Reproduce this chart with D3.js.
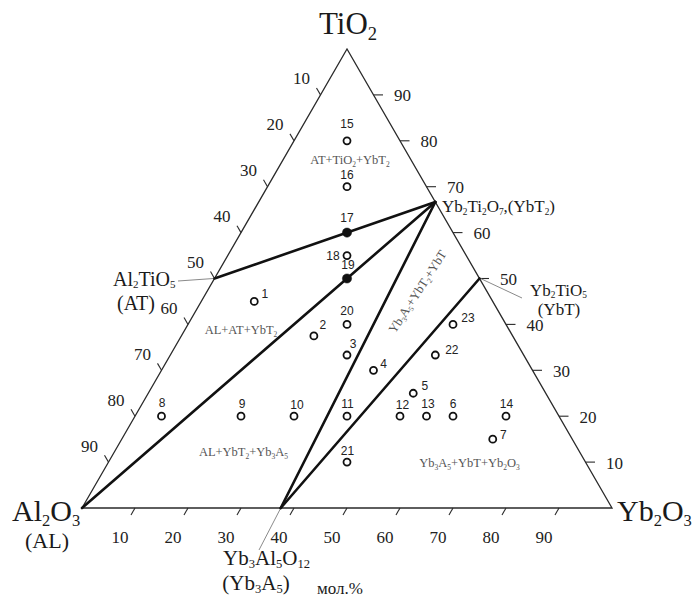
<!DOCTYPE html>
<html><head><meta charset="utf-8">
<script src="https://cdn.jsdelivr.net/npm/d3@7"></script>
<style>
html,body{margin:0;padding:0;background:#fff;}
svg{display:block;}
</style></head><body>
<svg id="chart" width="695" height="600"></svg>
<script>
// ---------- DATA (mol.%) ----------
const tickValues = [10, 20, 30, 40, 50, 60, 70, 80, 90];

const sampleIds     = ["1","2","3","4","5","6","7","8","9","10","11","12","13","14","15","16","17","18","19","20","21","22","23"];
const sampleAl2O3   = [45, 37.5, 33.33, 30, 25, 20, 15, 75, 60, 50, 40, 30, 25, 10, 10, 15, 20, 22.5, 25, 30, 45, 16.67, 10];
const sampleTiO2    = [45, 37.5, 33.33, 30, 25, 20, 15, 20, 20, 20, 20, 20, 20, 20, 80, 70, 60, 55, 50, 40, 10, 33.33, 40];
const sampleYb2O3   = [10, 25, 33.33, 40, 50, 60, 70, 5, 20, 30, 40, 50, 55, 70, 10, 15, 20, 22.5, 25, 30, 45, 50, 50];
const sampleFilled  = [0,0,0,0,0,0,0,0,0,0,0,0,0,0,0,0,1,0,1,0,0,0,0];

const phaseNames  = ["Al2O3", "TiO2", "Yb2O3", "Al2TiO5", "Yb2Ti2O7", "Yb2TiO5", "Yb3Al5O12"];
const phaseAl2O3  = [100, 0, 0, 50, 0, 0, 62.5];
const phaseTiO2   = [0, 100, 0, 50, 66.67, 50, 0];
const phaseYb2O3  = [0, 0, 100, 0, 33.33, 50, 37.5];

const tieFrom = ["Al2TiO5", "Al2O3", "Yb3Al5O12", "Yb3Al5O12"];
const tieTo   = ["Yb2Ti2O7", "Yb2Ti2O7", "Yb2Ti2O7", "Yb2TiO5"];

// ---------- LAYOUT ----------
const svg = d3.select("#chart");
const SERIF = "'Liberation Serif','Times New Roman',serif";
const SANS = "'Liberation Sans',Arial,sans-serif";

// ternary projection through linear scales
const xs = d3.scaleLinear().domain([0, 100]).range([82, 612]);
const ys = d3.scaleLinear().domain([0, 100]).range([508, 49]);
const px = (al, ti, yb) => [xs(yb + ti / 2), ys(ti)];

const phase = {};
phaseNames.forEach((n, i) => phase[n] = px(phaseAl2O3[i], phaseTiO2[i], phaseYb2O3[i]));

function chem(sel, str, fs, ratio, shiftR) {
  ratio = ratio || 0.62;
  const parts = str.split(/(_[0-9]+)/).filter(s => s.length);
  let shifted = false;
  const shift = fs * (shiftR || 0.2);
  parts.forEach(p => {
    if (p[0] === "_") {
      const t = sel.append("tspan").attr("font-size", fs * ratio).text(p.slice(1));
      if (!shifted) { t.attr("dy", shift); shifted = true; }
    } else {
      const t = sel.append("tspan").text(p);
      if (shifted) { t.attr("dy", -shift); shifted = false; }
    }
  });
}
function label(x, y, str, fs, opts) {
  opts = opts || {};
  const t = svg.append("text").attr("x", x).attr("y", y)
    .attr("font-family", opts.family || SERIF).attr("font-size", fs)
    .attr("fill", opts.fill || "#1a1a1a")
    .attr("text-anchor", opts.anchor || "start");
  if (opts.rotate) t.attr("transform", `rotate(${opts.rotate},${x},${y})`);
  chem(t, str, fs, opts.ratio, opts.shift);
  return t;
}

// triangle
const A = px(100, 0, 0), B = px(0, 0, 100), C = px(0, 100, 0);
svg.append("path")
  .attr("d", d3.line()([A, B, C, A]) + "Z")
  .attr("fill", "none").attr("stroke", "#2a2a2a").attr("stroke-width", 1.3)
  .attr("stroke-linejoin", "miter");

// ticks
const TL = 8;
const tickG = svg.append("g").attr("stroke", "#2a2a2a").attr("stroke-width", 1.1);
// bottom edge: Yb2O3
tickValues.forEach(v => {
  const p = px(100 - v, 0, v);
  tickG.append("line").attr("x1", p[0]).attr("y1", p[1])
    .attr("x2", p[0] - 0.5 * TL).attr("y2", p[1] + 0.866 * TL);
  svg.append("text").attr("x", p[0] - 15).attr("y", p[1] + 29)
    .attr("font-family", SERIF).attr("font-size", 17).attr("fill", "#222")
    .attr("text-anchor", "middle").attr("dominant-baseline", "central").text(v);
});
// right edge: TiO2
tickValues.forEach(v => {
  const p = px(0, v, 100 - v);
  tickG.append("line").attr("x1", p[0]).attr("y1", p[1])
    .attr("x2", p[0] + 9.5).attr("y2", p[1]);
  svg.append("text").attr("x", p[0] + 29).attr("y", p[1] + 1)
    .attr("font-family", SERIF).attr("font-size", 17).attr("fill", "#222")
    .attr("text-anchor", "middle").attr("dominant-baseline", "central").text(v);
});
// left edge: Al2O3
tickValues.forEach(v => {
  const p = px(v, 100 - v, 0);
  tickG.append("line").attr("x1", p[0]).attr("y1", p[1])
    .attr("x2", p[0] - 0.5 * TL).attr("y2", p[1] - 0.866 * TL);
  svg.append("text").attr("x", p[0] - 19).attr("y", p[1] - 16)
    .attr("font-family", SERIF).attr("font-size", 17).attr("fill", "#222")
    .attr("text-anchor", "middle").attr("dominant-baseline", "central").text(v);
});

// leader lines
const leadG = svg.append("g").attr("stroke", "#8a8a8a").attr("stroke-width", 1);
leadG.append("line").attr("x1", phase.Al2TiO5[0] - 1).attr("y1", phase.Al2TiO5[1])
  .attr("x2", 178).attr("y2", 281);
leadG.append("line").attr("x1", phase.Yb2TiO5[0] + 1).attr("y1", phase.Yb2TiO5[1])
  .attr("x2", 522).attr("y2", 298);
leadG.append("line").attr("x1", phase.Yb3Al5O12[0]).attr("y1", phase.Yb3Al5O12[1])
  .attr("x2", 259).attr("y2", 550);

// tie lines
tieFrom.forEach((f, i) => {
  svg.append("line")
    .attr("x1", phase[f][0]).attr("y1", phase[f][1])
    .attr("x2", phase[tieTo[i]][0]).attr("y2", phase[tieTo[i]][1])
    .attr("stroke", "#111").attr("stroke-width", 2.6).attr("stroke-linecap", "round");
});

// samples
const samples = sampleIds.map((id, i) => ({
  id, p: px(sampleAl2O3[i], sampleTiO2[i], sampleYb2O3[i]), filled: sampleFilled[i]
}));
svg.append("g").selectAll("circle").data(samples).join("circle")
  .attr("cx", d => d.p[0]).attr("cy", d => d.p[1])
  .attr("r", d => d.filled ? 4.6 : 3.5)
  .attr("fill", d => d.filled ? "#111" : "#fff")
  .attr("stroke", "#111").attr("stroke-width", d => d.filled ? 0.5 : 1.8);

// sample number label offsets (annotation layout)
const numOffset = {
  "1": [10.5, -7.5], "2": [9, -10.5], "3": [6, -11], "4": [10, -6], "5": [11.5, -7],
  "6": [0, -12.5], "7": [10.5, -4], "8": [0.5, -13], "9": [1, -12], "10": [3, -11],
  "11": [0.5, -12], "12": [2.5, -11], "13": [1.5, -12], "14": [0.5, -12.5],
  "15": [0, -17], "16": [0, -11.5], "17": [0, -15], "18": [-14, 0.5], "19": [1, -14],
  "20": [0, -13], "21": [0.5, -11.5], "22": [16.5, -5.5], "23": [15, -6]
};
svg.append("g").selectAll("text").data(samples).join("text")
  .attr("x", d => d.p[0] + numOffset[d.id][0])
  .attr("y", d => d.p[1] + numOffset[d.id][1])
  .attr("font-family", SANS).attr("font-size", 12).attr("fill", "#222")
  .attr("text-anchor", "middle").attr("dominant-baseline", "central")
  .text(d => d.id);

// region labels
const regFill = "#555";
label(350, 164, "AT+TiO_2+YbT_2", 12.5, {anchor: "middle", fill: regFill, ratio: 0.6});
label(241, 334, "AL+AT+YbT_2", 12.5, {anchor: "middle", fill: regFill, ratio: 0.6});
label(243.5, 456, "AL+YbT_2+Yb_3A_5", 12.5, {anchor: "middle", fill: regFill, ratio: 0.6});
label(469.5, 467, "Yb_3A_5+YbT+Yb_2O_3", 12.5, {anchor: "middle", fill: regFill, ratio: 0.6});
label(421, 294, "Yb_3A_5+YbT_2+YbT", 12.5, {anchor: "middle", fill: regFill, ratio: 0.6, rotate: -57});

// vertex / compound labels
label(348, 34, "TiO_2", 31, {anchor: "middle", ratio: 0.6});
label(12, 521, "Al_2O_3", 30, {ratio: 0.55, shift: 0.15});
label(47, 548, "(AL)", 22, {anchor: "middle"});
label(617, 521, "Yb_2O_3", 30, {ratio: 0.55, shift: 0.15});
label(113, 286, "Al_2TiO_5", 20, {ratio: 0.55, shift: 0.12});
label(136, 309.5, "(AT)", 20, {anchor: "middle"});
label(442, 212, "Yb_2Ti_2O_7,(YbT_2)", 17, {ratio: 0.55});
label(530, 296, "Yb_2TiO_5", 17, {ratio: 0.55, shift: 0.12});
label(559, 315, "(YbT)", 17, {anchor: "middle"});
label(223, 565, "Yb_3Al_5O_12", 21, {ratio: 0.6, shift: 0.15});
label(256, 590, "(Yb_3A_5)", 21, {anchor: "middle", ratio: 0.6, shift: 0.15});
label(317, 594, "мол.%", 17, {});
</script>
</body></html>
